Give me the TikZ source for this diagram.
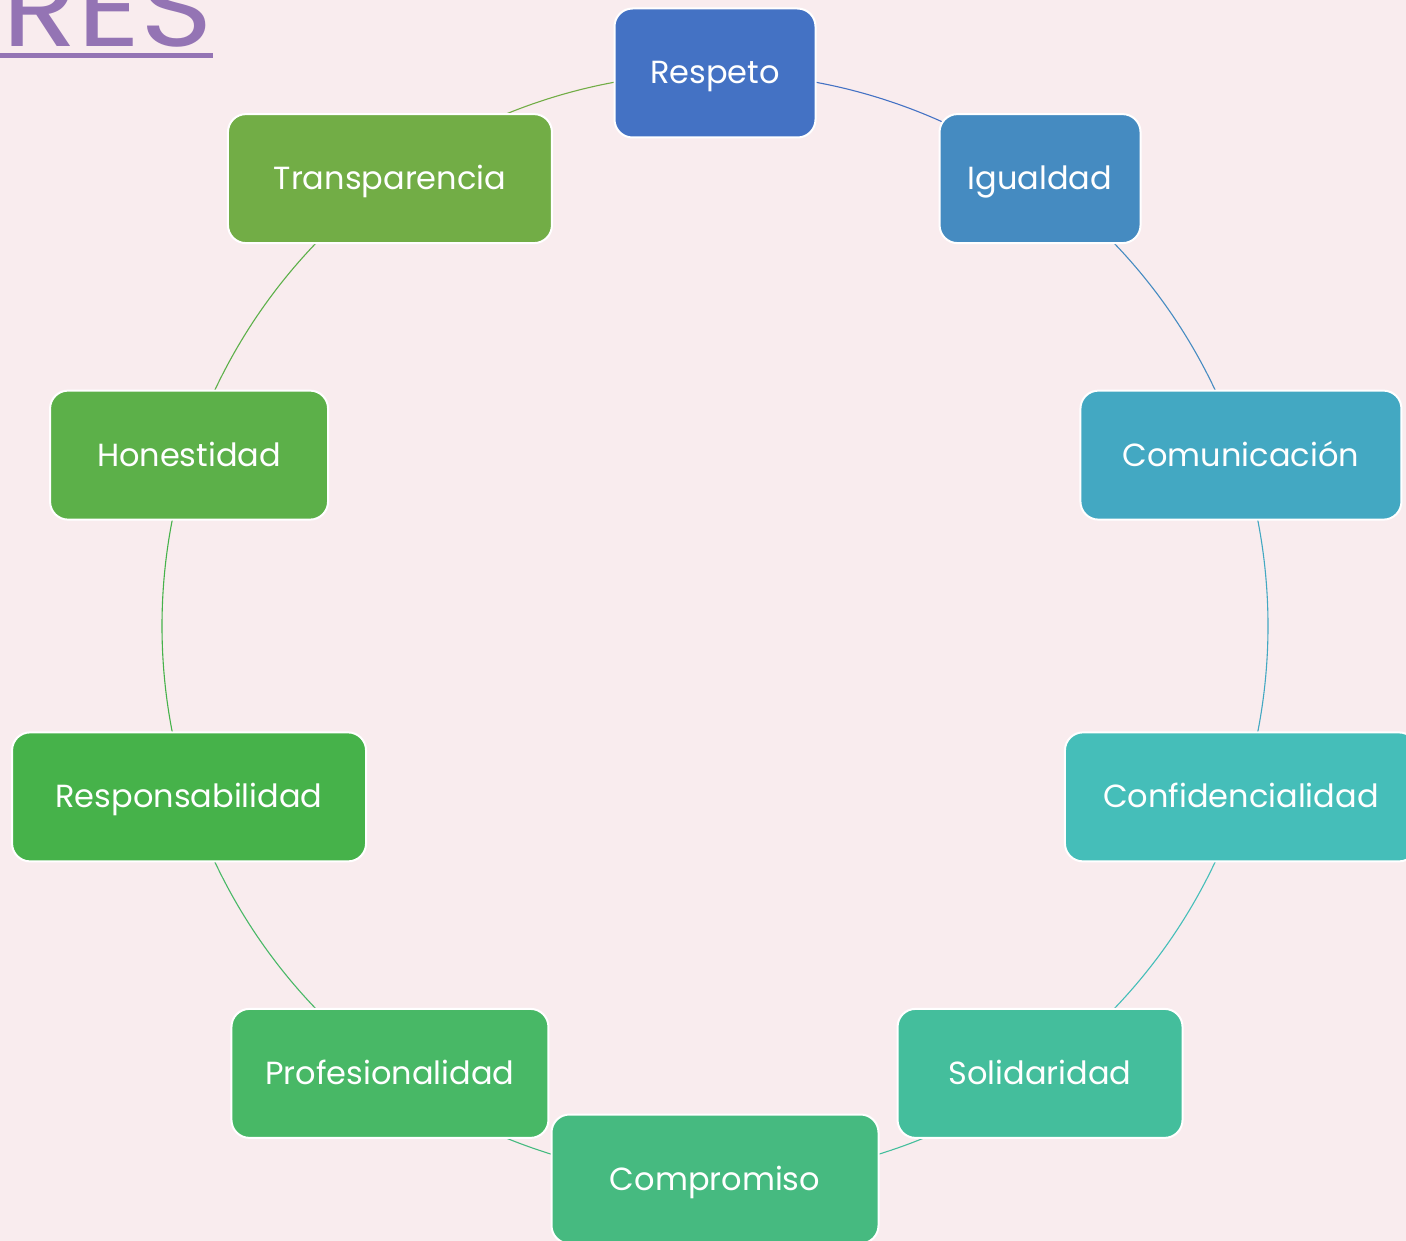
\documentclass[tikz,border=0pt]{standalone}
\usepackage{fontspec}
\setmainfont{Poppins}
\usetikzlibrary{calc}
\usetikzlibrary{backgrounds}

\definecolor{bgpink}{HTML}{F9ECEE}
\definecolor{titlepurple}{HTML}{9474B4}
\definecolor{cA}{HTML}{4472C4}
\definecolor{cB}{HTML}{458BC1}
\definecolor{cC}{HTML}{43A8C2}
\definecolor{cD}{HTML}{45BEB9}
\definecolor{cE}{HTML}{44BE9C}
\definecolor{cF}{HTML}{46BA80}
\definecolor{cG}{HTML}{48B866}
\definecolor{cH}{HTML}{46B24A}
\definecolor{cI}{HTML}{5CB049}
\definecolor{cJ}{HTML}{72AD46}

\begin{document}
\begin{tikzpicture}[x=1pt,y=1pt,
        box/.style={rectangle,rounded corners=18pt,draw=white,line width=2pt,
          minimum height=129pt,inner sep=0pt,text=white,text height=22pt,text depth=0pt},
        link/.style={line width=1.1pt},
        every node/.style={font=\fontsize{32}{36}\selectfont}]
        \useasboundingbox (0,0) rectangle (1406,-1241);
        \coordinate (c) at (715,-626);
        % title, cut by the top edge
        \node[anchor=base west,inner sep=0pt,text=titlepurple,xscale=1.12,
          font=\fontsize{110}{112}\selectfont] (ttl) at (2,-47) {RES};
        \draw[titlepurple,line width=5pt] (0,-55.5) -- (ttl.base east |- 0,-55.5);
        % the ten boxes
        \node[box,fill=cA,minimum width=201pt] (1)  at ($(c)+(90:553pt)$)   {Respeto};
        \node[box,fill=cB,minimum width=201pt] (2)  at ($(c)+(54:553pt)$)   {Igualdad};
        \node[box,fill=cC,minimum width=321pt] (3)  at ($(c)+(18:553pt)$)   {Comunicación};
        \node[box,fill=cD,minimum width=352pt] (4)  at ($(c)+(-18:553pt)$)  {Confidencialidad};
        \node[box,fill=cE,minimum width=285pt] (5)  at ($(c)+(-54:553pt)$)  {Solidaridad};
        \node[box,fill=cG,minimum width=317pt] (7)  at ($(c)+(-126:553pt)$) {Profesionalidad};
        \node[box,fill=cH,minimum width=354pt] (8)  at ($(c)+(-162:553pt)$) {Responsabilidad};
        \node[box,fill=cI,minimum width=278pt] (9)  at ($(c)+(162:553pt)$)  {Honestidad};
        \node[box,fill=cJ,minimum width=324pt] (10) at ($(c)+(126:553pt)$)  {Transparencia};
        \node[box,fill=cF,minimum width=327pt] (6)  at ($(c)+(-90:553pt)$)  {Compromiso};
        \begin{pgfonlayer}{background}
          \fill[bgpink] (0,0) rectangle (1406,-1241);
          % arcs of the ring, from box to box
          \draw[link,cA] (1.center)  arc[start angle=90,end angle=54,radius=553pt];
          \draw[link,cB] (2.center)  arc[start angle=54,end angle=18,radius=553pt];
          \draw[link,cC] (3.center)  arc[start angle=18,end angle=-18,radius=553pt];
          \draw[link,cD] (4.center)  arc[start angle=-18,end angle=-54,radius=553pt];
          \draw[link,cE] (5.center)  arc[start angle=-54,end angle=-90,radius=553pt];
          \draw[link,cF] (6.center)  arc[start angle=-90,end angle=-126,radius=553pt];
          \draw[link,cG] (7.center)  arc[start angle=-126,end angle=-162,radius=553pt];
          \draw[link,cH] (8.center)  arc[start angle=-162,end angle=-198,radius=553pt];
          \draw[link,cI] (9.center)  arc[start angle=162,end angle=126,radius=553pt];
          \draw[link,cJ] (10.center) arc[start angle=126,end angle=90,radius=553pt];
        \end{pgfonlayer}
\end{tikzpicture}
\end{document}
